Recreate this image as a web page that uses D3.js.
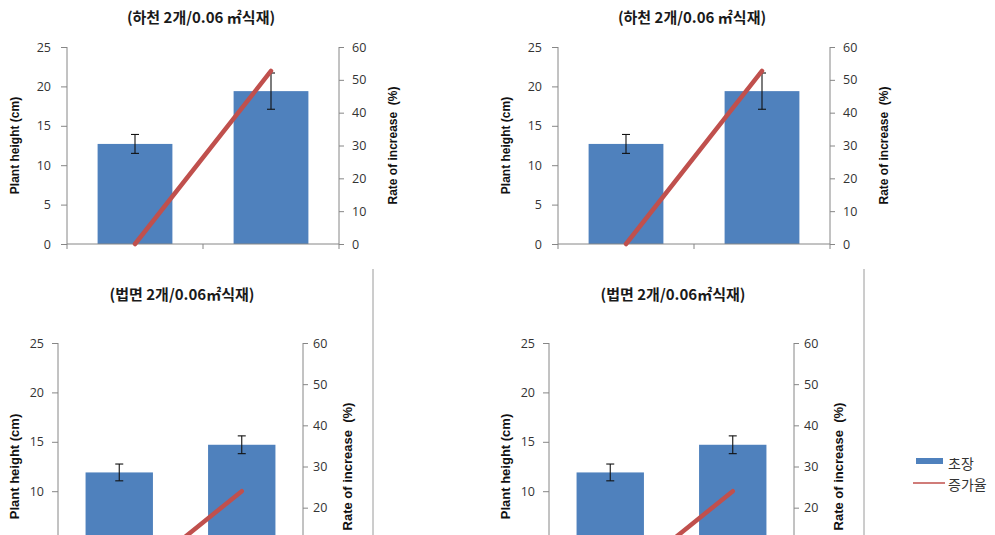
<!DOCTYPE html>
<html>
<head>
<meta charset="utf-8">
<script src="https://cdn.jsdelivr.net/npm/d3@7/dist/d3.min.js"></script>
<style>
  html, body { margin: 0; padding: 0; background: #fff; }
  svg { display: block; }
</style>
</head>
<body>
<svg id="chart" width="995" height="535"></svg>
<script>
// Plant height (bars, left axis) and rate of increase (line, right axis)
const categories = ["A", "B"];
const titles = ["(하천 2개/0.06 ㎡식재)", "(법면 2개/0.06㎡식재)"];
const heightTicks = [0, 5, 10, 15, 20, 25];
const rateTicks = [0, 10, 20, 30, 40, 50, 60];

// 하천 (river bank) planting
const riverHeight = [12.7, 19.4];
const riverError = [1.2, 2.3];
const riverRate = [0, 52.7];

// 법면 (slope) planting
const slopeHeight = [11.9, 14.7];
const slopeError = [0.85, 0.9];
const slopeRate = [0, 24];

const legendLabels = ["초장", "증가율"];

const BAR = "#4f81bd", LINE = "#c0504d", AXIS = "#868686", TXT = "#333333";
const H = 535;

const svg = d3.select("#chart");

function panel(o) {
  const g = svg.append("g");
  const x = d3.scaleBand().domain(categories).range([o.left, o.right]).paddingInner(0.45).paddingOuter(0.225);
  const xc = d3.scaleBand().domain(categories).range([o.left, o.right]);
  const yL = d3.scaleLinear().domain([0, 25]).range([o.bottom, o.top]);
  const yR = d3.scaleLinear().domain([0, 60]).range([o.bottom, o.top]);
  // only label ticks that fall inside the drawing area
  const inView = s => v => s(v) < H - 8;

  // title
  g.append("text")
    .attr("x", o.titleX).attr("y", o.titleY)
    .attr("text-anchor", "middle")
    .attr("xml:space", "preserve")
    .style("font-family", "'Noto Sans CJK KR', sans-serif")
    .style("font-weight", "bold")
    .style("font-size", "15px")
    .attr("fill", "#1a1a1a")
    .text(o.title);

  // bars
  g.selectAll("rect.bar").data(o.height).enter().append("rect")
    .attr("x", (d, i) => x(categories[i]))
    .attr("width", x.bandwidth())
    .attr("y", d => yL(d))
    .attr("height", d => yL(0) - yL(d))
    .attr("fill", BAR);

  // error bars
  const eb = g.selectAll("g.err").data(o.height).enter().append("g")
    .attr("stroke", "#111").attr("stroke-width", 1.1);
  eb.append("line")
    .attr("x1", (d, i) => xc(categories[i]) + xc.bandwidth() / 2)
    .attr("x2", (d, i) => xc(categories[i]) + xc.bandwidth() / 2)
    .attr("y1", (d, i) => yL(d + o.error[i]))
    .attr("y2", (d, i) => yL(d - o.error[i]));
  [1, -1].forEach(s => {
    eb.append("line")
      .attr("x1", (d, i) => xc(categories[i]) + xc.bandwidth() / 2 - 4)
      .attr("x2", (d, i) => xc(categories[i]) + xc.bandwidth() / 2 + 4)
      .attr("y1", (d, i) => yL(d + s * o.error[i]))
      .attr("y2", (d, i) => yL(d + s * o.error[i]));
  });

  // axes
  const left = g.append("g").attr("transform", `translate(${o.left},0)`)
    .call(d3.axisLeft(yL).tickValues(heightTicks.filter(inView(yL))).tickSize(6).tickPadding(o.padL).tickSizeOuter(0));
  const right = g.append("g").attr("transform", `translate(${o.right},0)`)
    .call(d3.axisRight(yR).tickValues(rateTicks.filter(inView(yR))).tickSize(5).tickPadding(o.padR).tickSizeOuter(0));
  [left, right].forEach(a => a.select(".domain").attr("d", `M0,${o.top}V${o.bottom}`));
  const bottom = g.append("g").attr("transform", `translate(0,${o.bottom})`)
    .call(d3.axisBottom(xc).tickSize(0).tickFormat(""));
  bottom.select(".domain").attr("d", `M${o.left},0H${o.right}`);
  // category boundary ticks under the axis
  [o.left, xc(categories[1]), o.right].forEach(t => {
    bottom.append("line").attr("x1", t).attr("x2", t).attr("y1", 0).attr("y2", 5).attr("stroke", AXIS);
  });
  [left, right, bottom].forEach(a => {
    a.selectAll(".domain").attr("stroke", AXIS);
    a.selectAll(".tick line").attr("stroke", AXIS);
    a.selectAll("text")
      .style("font-family", "'Open Sans', sans-serif")
      .style("font-size", "12.5px")
      .attr("fill", TXT);
  });

  // rate of increase line
  const line = d3.line()
    .x((d, i) => xc(categories[i]) + xc.bandwidth() / 2)
    .y(d => yR(d));
  g.append("path").datum(o.rate)
    .attr("d", line)
    .attr("fill", "none")
    .attr("stroke", LINE)
    .attr("stroke-width", 4.5)
    .attr("stroke-linecap", "round");

  // axis titles
  const mid = (o.top + o.bottom) / 2;
  g.append("text")
    .attr("transform", `translate(${o.labL},${mid}) rotate(-90)`)
    .attr("text-anchor", "middle")
    .style("font-family", "'Liberation Sans', Arial, sans-serif")
    .style("font-weight", "bold").style("font-size", o.labSize + "px")
    .attr("fill", "#111")
    .text("Plant height (cm)");
  g.append("text")
    .attr("transform", `translate(${o.labR},${mid}) rotate(-90)`)
    .attr("text-anchor", "middle")
    .style("font-family", "'Liberation Sans', Arial, sans-serif")
    .style("font-weight", "bold").style("font-size", o.labSize + "px")
    .attr("fill", "#111")
    .attr("xml:space", "preserve")
    .text("Rate of increase  (%)");
}

const dx = 491;
[0, dx].forEach(off => {
  panel({
    title: titles[0], titleX: 201 + off, titleY: 23,
    left: 67 + off, right: 339 + off, top: 47, bottom: 244,
    height: riverHeight, error: riverError, rate: riverRate,
    padL: 10, padR: 8, labL: 19 + off, labR: 397 + off, labSize: 12
  });
  panel({
    title: titles[1], titleX: 182 + off, titleY: 300,
    left: 58 + off, right: 303 + off, top: 343, bottom: 590,
    height: slopeHeight, error: slopeError, rate: slopeRate,
    padL: 8, padR: 5, labL: 19 + off, labR: 352 + off, labSize: 13
  });
  // frame edge on the right of each lower chart
  svg.append("line")
    .attr("x1", 373 + off).attr("x2", 373 + off)
    .attr("y1", 269).attr("y2", 535)
    .attr("stroke", "#9a9a9a").attr("stroke-width", 1);
});

// legend
const lg = svg.append("g").attr("transform", "translate(913,0)");
lg.append("rect").attr("x", 3).attr("y", 458).attr("width", 27).attr("height", 6).attr("fill", BAR);
lg.append("line").attr("x1", 0).attr("x2", 32).attr("y1", 483).attr("y2", 483).attr("stroke", LINE).attr("stroke-width", 1.5);
lg.selectAll("text.lg").data(legendLabels).enter().append("text")
  .attr("x", 35).attr("y", (d, i) => 469 + i * 21)
  .style("font-family", "'Noto Sans CJK KR', sans-serif")
  .style("font-size", "14px")
  .attr("fill", TXT)
  .text(d => d);
</script>
</body>
</html>
